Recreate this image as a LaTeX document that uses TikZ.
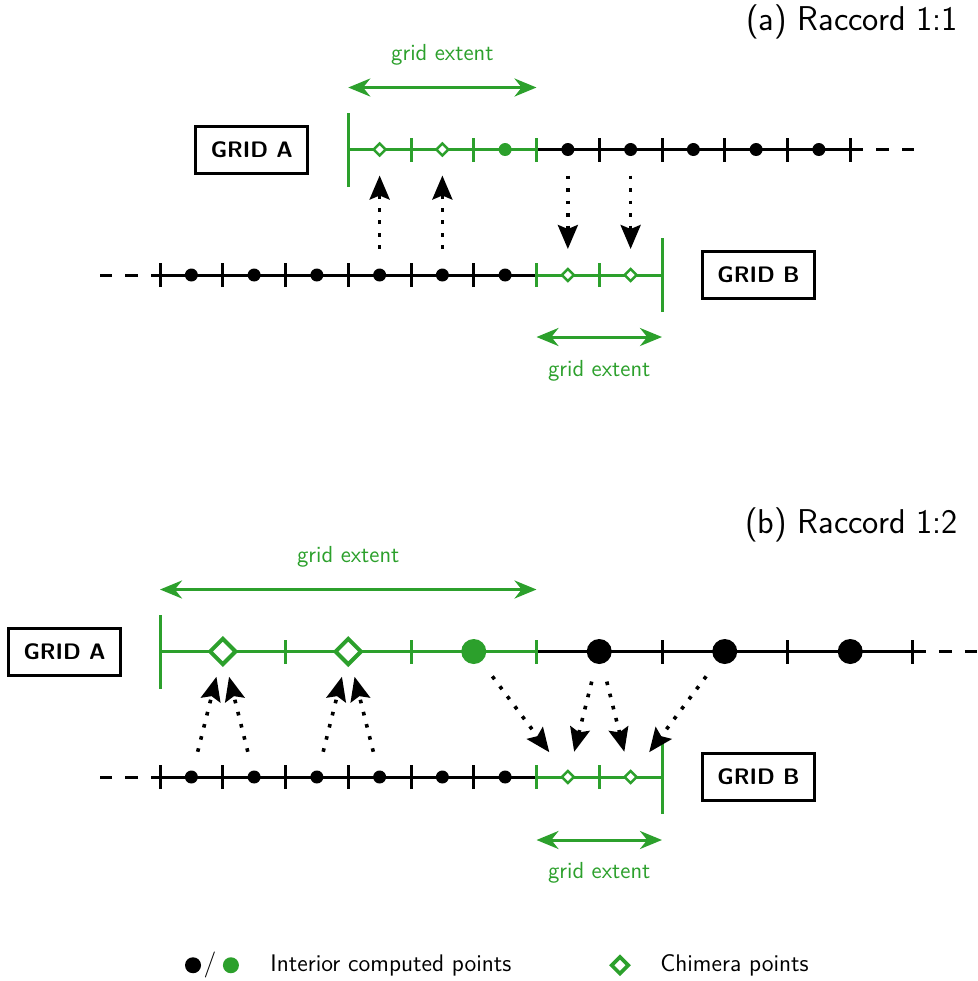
\documentclass[tikz,border=0pt]{standalone}
\usepackage{tikz}
\usetikzlibrary{positioning,shapes.geometric,arrows.meta}
\renewcommand{\familydefault}{\sfdefault}
\definecolor{gridgreen}{HTML}{2CA02C}

\tikzset{
  grid line/.style={line width=1.5pt},
  grid tick/.style={line width=1.5pt},
  grid tail/.style={line width=1.5pt, dash pattern=on 6.5pt off 6.5pt},
  grid end/.style={gridgreen, line width=1.5pt},
  interior/.style={circle, fill, inner sep=0pt, minimum size=6.5pt},
  big interior/.style={interior, minimum size=12.5pt},
  chimera/.style={diamond, draw=gridgreen, fill=white, line width=1.2pt, inner sep=0pt, minimum size=6.5pt},
  big chimera/.style={chimera, line width=2pt, minimum size=13.5pt},
  grid name/.style={draw, line width=1.5pt, font=\fontsize{11.2}{13}\selectfont\bfseries,
    minimum width=56pt, minimum height=23.5pt, inner sep=0pt},
  extent/.style={gridgreen, line width=1.5pt, >={Stealth[length=11pt,width=9pt]}, <->},
  extent label/.style={gridgreen, font=\fontsize{11.6}{13}\selectfont},
  exchange/.style={line width=1.8pt, dash pattern=on 1.8pt off 4.45pt,
    -{Stealth[length=12pt,width=10pt,inset=2pt]}, shorten <=13pt, shorten >=13pt},
  caption/.style={anchor=east, inner sep=0pt, font=\fontsize{17.2}{20}\selectfont},
  key/.style={font=\fontsize{12}{14}\selectfont, anchor=west}
}

\begin{document}
\begin{tikzpicture}[x=31.375pt, y=31.375pt]
\useasboundingbox (-2.55,-3.251) rectangle (13.036,12.383);

% ---------- (a) Raccord 1:1 ----------
\node[caption] (title-a) at (12.72,12.03) {(a) Raccord 1:1};

% grid A
\foreach \i in {3,...,11}
  \coordinate (A1-\i) at (\i,10);
\draw[grid line, gridgreen] (A1-3) -- (A1-6);
\draw[grid line] (A1-6) -- (A1-11);
\draw[grid tail] (A1-11) -- ++(32pt,0);
\foreach \i in {4,5,6}
  \draw[grid tick, gridgreen] ([yshift=-6pt]A1-\i) -- ([yshift=6pt]A1-\i);
\foreach \i in {7,...,11}
  \draw[grid tick] ([yshift=-6pt]A1-\i) -- ([yshift=6pt]A1-\i);
\draw[grid end] ([yshift=-18.5pt]A1-3) -- ([yshift=18.5pt]A1-3);
\foreach \i in {3,4}
  \node[chimera] (pA1-\i) at (\i+0.5,10) {};
\node[interior, gridgreen] (pA1-5) at (5.5,10) {};
\foreach \i in {6,...,10}
  \node[interior] (pA1-\i) at (\i+0.5,10) {};
\node[grid name, left=19.5pt of A1-3] (gridA-a) {GRID A};
\draw[extent] ([yshift=31pt]A1-3) -- ([yshift=31pt]A1-6)
  node[extent label, midway, above=7pt] {grid extent};

% grid B
\foreach \i in {0,...,8}
  \coordinate (B1-\i) at (\i,8);
\draw[grid line] (B1-0) -- (B1-6);
\draw[grid line, gridgreen] (B1-6) -- (B1-8);
\draw[grid tail, dash phase=2pt] (B1-0) -- ++(-30pt,0);
\foreach \i in {0,...,5}
  \draw[grid tick] ([yshift=-6pt]B1-\i) -- ([yshift=6pt]B1-\i);
\foreach \i in {6,7}
  \draw[grid tick, gridgreen] ([yshift=-6pt]B1-\i) -- ([yshift=6pt]B1-\i);
\draw[grid end] ([yshift=-18.5pt]B1-8) -- ([yshift=18.5pt]B1-8);
\foreach \i in {0,...,5}
  \node[interior] (pB1-\i) at (\i+0.5,8) {};
\foreach \i in {6,7}
  \node[chimera] (pB1-\i) at (\i+0.5,8) {};
\node[grid name, right=19.5pt of B1-8] (gridB-a) {GRID B};
\draw[extent] ([yshift=-31pt]B1-6) -- ([yshift=-31pt]B1-8)
  node[extent label, midway, below=7.5pt] {grid extent};

% exchanges
\foreach \i in {3,4}
  \draw[exchange] (pB1-\i.center) -- (pA1-\i.center);
\foreach \i in {6,7}
  \draw[exchange] (pA1-\i.center) -- (pB1-\i.center);

% ---------- (b) Raccord 1:2 ----------
\node[caption] (title-b) at (12.72,4.02) {(b) Raccord 1:2};

% grid A (coarse)
\foreach \i in {0,...,6}
  \coordinate (A2-\i) at (2*\i,2);
\draw[grid line, gridgreen] (A2-0) -- (A2-3);
\draw[grid line] (A2-3) -- (A2-6);
\draw[grid tail] (A2-6) -- ++(32pt,0);
\foreach \i in {1,2,3}
  \draw[grid tick, gridgreen] ([yshift=-6pt]A2-\i) -- ([yshift=6pt]A2-\i);
\foreach \i in {4,5,6}
  \draw[grid tick] ([yshift=-6pt]A2-\i) -- ([yshift=6pt]A2-\i);
\draw[grid end] ([yshift=-18.5pt]A2-0) -- ([yshift=18.5pt]A2-0);
\foreach \i in {0,1}
  \node[big chimera] (pA2-\i) at (2*\i+1,2) {};
\node[big interior, gridgreen] (pA2-2) at (5,2) {};
\foreach \i in {3,4,5}
  \node[big interior] (pA2-\i) at (2*\i+1,2) {};
\node[grid name, left=19pt of A2-0] (gridA-b) {GRID A};
\draw[extent] ([yshift=31pt]A2-0) -- ([yshift=31pt]A2-3)
  node[extent label, midway, above=7pt] {grid extent};

% grid B (fine)
\foreach \i in {0,...,8}
  \coordinate (B2-\i) at (\i,0);
\draw[grid line] (B2-0) -- (B2-6);
\draw[grid line, gridgreen] (B2-6) -- (B2-8);
\draw[grid tail, dash phase=2pt] (B2-0) -- ++(-30pt,0);
\foreach \i in {0,...,5}
  \draw[grid tick] ([yshift=-6pt]B2-\i) -- ([yshift=6pt]B2-\i);
\foreach \i in {6,7}
  \draw[grid tick, gridgreen] ([yshift=-6pt]B2-\i) -- ([yshift=6pt]B2-\i);
\draw[grid end] ([yshift=-18.5pt]B2-8) -- ([yshift=18.5pt]B2-8);
\foreach \i in {0,...,5}
  \node[interior] (pB2-\i) at (\i+0.5,0) {};
\foreach \i in {6,7}
  \node[chimera] (pB2-\i) at (\i+0.5,0) {};
\node[grid name, right=19.5pt of B2-8] (gridB-b) {GRID B};
\draw[extent] ([yshift=-31.5pt]B2-6) -- ([yshift=-31.5pt]B2-8)
  node[extent label, midway, below=7pt] {grid extent};

% exchanges
\foreach \j/\k in {0/0,1/0,2/1,3/1}
  \draw[exchange] (pB2-\j.center) -- (pA2-\k.center);
\foreach \k/\j/\s in {2/6/15.5pt,3/6/13pt,3/7/13pt,4/7/15.5pt}
  \draw[exchange, shorten <=15.5pt, shorten >=\s] (pA2-\k.center) -- (pB2-\j.center);

% ---------- legend ----------
\node[interior, minimum size=8pt] (key-black) at (0.526,-3) {};
\node[font=\fontsize{13}{15}\selectfont, inner sep=0pt] (key-slash) at (0.797,-3) {/};
\node[interior, minimum size=8pt, gridgreen] (key-green) at (1.13,-3) {};
\node[key] (key-interior) at (1.647,-3) {Interior computed points};
\node[chimera, line width=1.8pt, minimum size=9pt] (key-chimera) at (7.33,-3) {};
\node[key] (key-chim-text) at (7.862,-3) {Chimera points};
\end{tikzpicture}
\end{document}
